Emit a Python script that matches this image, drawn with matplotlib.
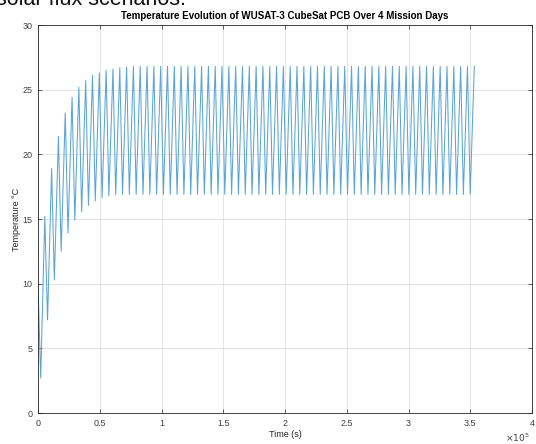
import numpy as np
import matplotlib
matplotlib.use("Agg")
from matplotlib import pyplot as plt

plt.rcParams['font.family'] = ['Liberation Sans', 'DejaVu Sans']

# values
start_temp = 10.0            # deg C at t = 0
orbit_period = 5520.0        # s, spacing of the peaks
first_peak_time = 5500.0     # s
rise_time = 3300.0           # s, trough -> peak
n_orbits = 64

peak_temps = [15.2, 18.9, 21.4, 23.2, 24.4, 25.2, 25.7, 26.1, 26.3, 26.5,
              26.6, 26.7, 26.75] + [26.8] * 51
trough_temps = [2.7, 7.2, 10.3, 12.5, 13.9, 14.9, 15.55, 16.05, 16.4, 16.65,
                16.8, 16.87] + [16.9] * 52

# build the time series: start, then trough/peak pairs for every orbit
t = [0.0]
temp = [start_temp]
for k in range(n_orbits):
    tp = first_peak_time + k * orbit_period
    t.append(tp - rise_time)
    temp.append(trough_temps[k])
    t.append(tp)
    temp.append(peak_temps[k])
t = np.array(t)
temp = np.array(temp)

fig = plt.figure(figsize=(5.36, 4.44), dpi=100)
ax = fig.add_axes([38 / 536, 1 - 413 / 444, 494 / 536, 388 / 444])

ax.plot(t, temp, color='#5aa5d6', linewidth=0.75)

ax.set_xlim(0, 4e5)
ax.set_ylim(0, 30)
xt = np.arange(0, 4.01e5, 0.5e5)
ax.set_xticks(xt)
ax.set_xticklabels(['%g' % (v / 1e5) for v in xt])
ax.set_yticks(np.arange(0, 31, 5))

ax.grid(True, color='#e0e0e0', linewidth=0.6)
ax.set_axisbelow(True)
ax.tick_params(direction='in', length=3, width=0.5, colors='#262626',
               labelsize=6.5, labelcolor='#404040', top=True, right=True, pad=4)
for s in ax.spines.values():
    s.set_color('#262626')
    s.set_linewidth(0.6)

ax.set_title('Temperature Evolution of WUSAT-3 CubeSat PCB Over 4 Mission Days',
             fontsize=7, fontweight='bold', pad=4)
ax.set_xlabel('Time (s)', fontsize=6.5, color='#262626', labelpad=2)
ax.set_ylabel('Temperature °C', fontsize=6.5, color='#262626', labelpad=1)

fig.text(530 / 536, 1 - 438 / 444, r'$\times10^{5}$', fontsize=6.5,
         color='#404040', ha='right', va='center')

# cut-off text at the very top of the image
fig.text(-4 / 536, 1 - 5 / 444, 'solar flux scenarios.', fontsize=15.5,
         color='#111111', ha='left', va='baseline')

fig.savefig('out.png', dpi=100)
